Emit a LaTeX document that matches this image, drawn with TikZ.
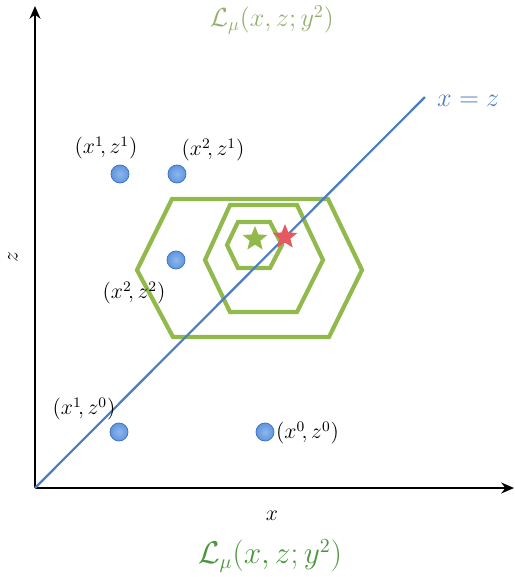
\documentclass[tikz,border=0pt]{standalone}
\usepackage{amsmath,amssymb}
\usetikzlibrary{arrows.meta,shapes.geometric}
\definecolor{dotblue}{RGB}{95,150,225}
\definecolor{dotrim}{RGB}{60,110,190}
\definecolor{lineblue}{RGB}{75,125,195}
\definecolor{hexgreen}{RGB}{145,185,75}
\definecolor{labgreen}{RGB}{75,150,60}
\definecolor{fadegreen}{RGB}{150,175,110}
\definecolor{starred}{RGB}{230,90,95}
\tikzset{pt/.style={circle,minimum size=18pt*0.55,inner sep=0pt,draw=dotrim,line width=0.4pt,inner color=dotblue!70!white,outer color=dotblue},
 lab/.style={font=\large,inner sep=1pt},
 hx/.style={draw=hexgreen,line width=2.3pt,line join=miter},
 st/.style={star,star points=5,star point ratio=2.3,minimum size=26pt*0.55,inner sep=0pt},
 ax/.style={-{Stealth[length=7pt,width=6pt]},line width=1.3pt}}
\begin{document}
\begin{tikzpicture}[x=0.55pt,y=-0.55pt]
\useasboundingbox(0,0)rectangle(514,577);
\coordinate(O)at(35,488);\coordinate(X)at(514,488);\coordinate(Z)at(35,6);\coordinate(D)at(425,97);
\draw[ax](O)--(X);\draw[ax](O)--(Z);
\node[lab](zl)at(13,257){\rotatebox{90}{$z$}};\node[lab](xl)at(272,516){$x$};
% hexagons
\draw[hx](172,199)--(328,199)--(362,270)--(329,337)--(173,337)--(137,270)--cycle;
\draw[hx](230,205)--(297,205)--(323,260)--(297,312)--(230,312)--(205,260)--cycle;
\draw[hx](238,222)--(270,222)--(282,245)--(270,268)--(238,268)--(227,245)--cycle;
\draw[lineblue,line width=1.2pt](O)--(D);
\node[lab,font=\Large,text=lineblue,anchor=west](dl)at(435,101){$x=z$};
\node[st,fill=hexgreen](s1)at(255,239){};
\node[st,fill=starred](s2)at(285,237){};
% points
\foreach\n/\x/\y in{a/120/174,b/177/174,c/176/260,d/119/432,e/265/432}\node[pt](\n)at(\x,\y){};
\node[lab](la)at(106,148){$(x^1\!,z^1)$};\node[lab](lb)at(213,150){$(x^2\!,z^1)$};
\node[lab](lc)at(134,293){$(x^2\!,z^2)$};\node[lab](ld)at(84,409){$(x^1\!,z^0)$};
\node[lab,anchor=west](le)at(274,433){$(x^0\!,z^0)$};
\node[font=\Large,text=fadegreen](t1)at(272,20){$\mathcal{L}_\mu(x,z;y^2)$};
\node[font=\fontsize{16}{19}\selectfont,text=labgreen](t2)at(270,556){$\mathcal{L}_\mu(x,z;y^2)$};
\end{tikzpicture}
\end{document}
